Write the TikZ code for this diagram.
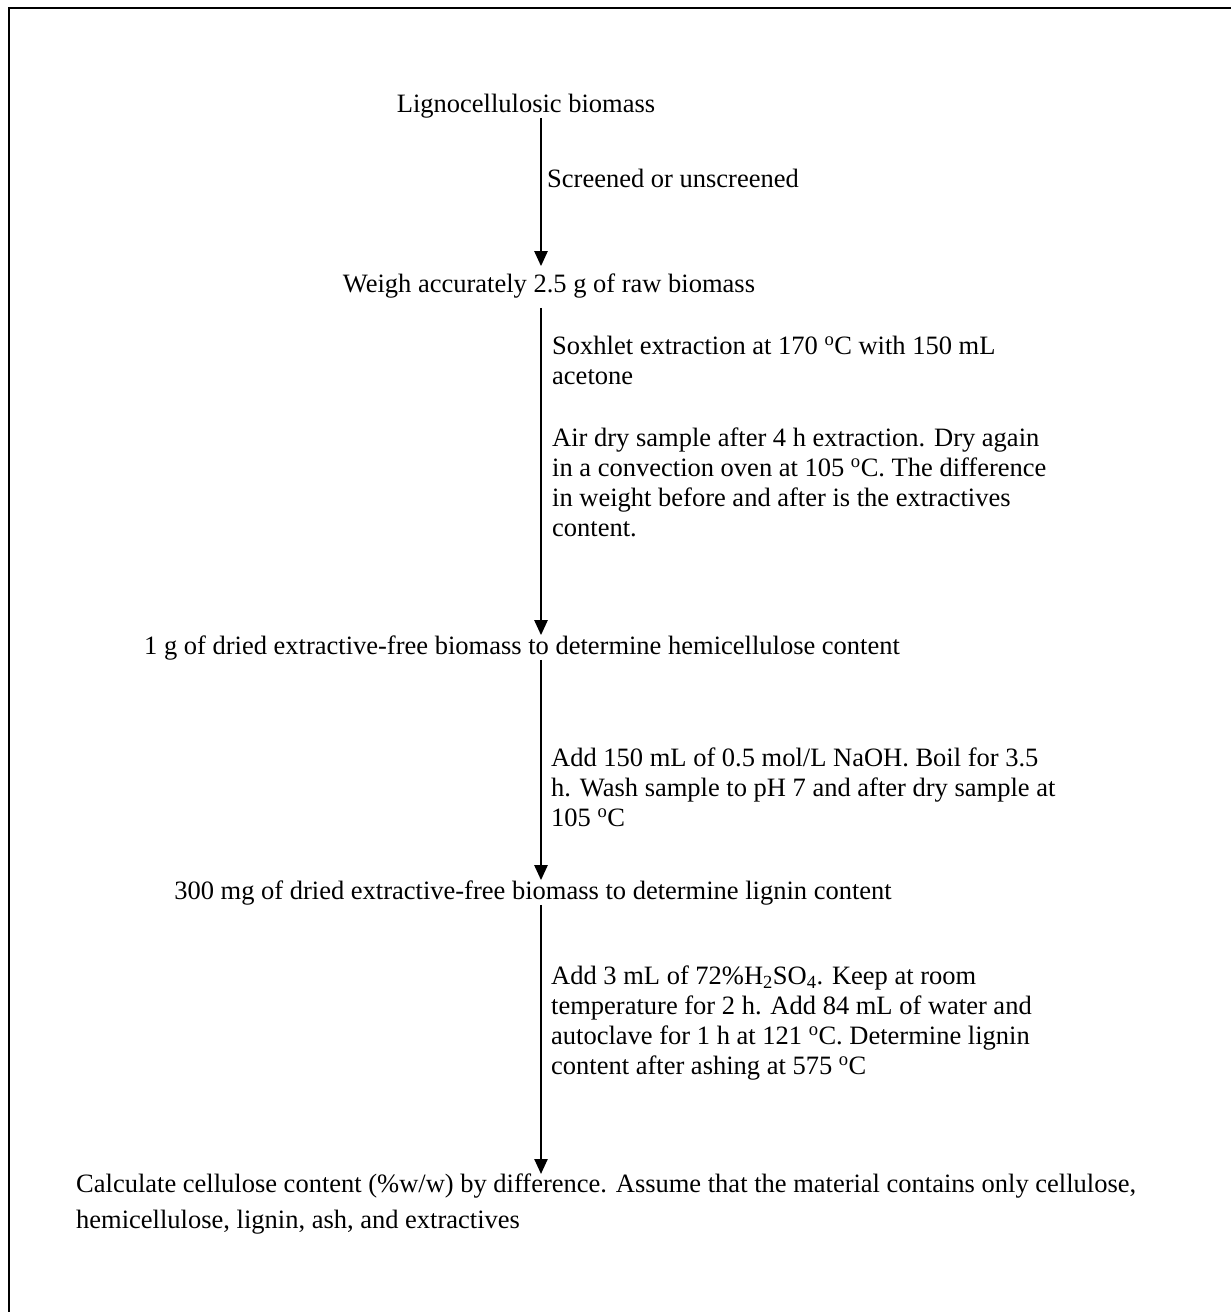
\documentclass[tikz,border=0pt]{standalone}
\usepackage{fontspec}
\setmainfont{Liberation Serif}
\usetikzlibrary{arrows.meta,calc}
\begin{document}
\begin{tikzpicture}[x=1pt,y=-1pt,
  txt/.style={inner sep=0pt, font=\fontsize{26.5}{30}\selectfont},
  para/.style={txt, align=left, anchor=north west},
  arr/.style={line width=2.4pt, -{Triangle[width=13pt,length=15pt]}},
  frameline/.style={line width=2pt}]
\useasboundingbox (0,0) rectangle (1231,1312);
\fill[white] (0,0) rectangle (1231,1312);
\draw[frameline] (1231,8) -- (9,8) -- (9,1312);
\coordinate (ax) at (541,0);
% main steps
\node[txt, anchor=base] (n1) at (526,112) {Lignocellulosic biomass};
\node[txt, anchor=base] (n2) at (549,292) {Weigh accurately 2.5 g of raw biomass};
\node[txt, anchor=base] (n3) at (522,654) {1 g of dried extractive-free biomass to determine hemicellulose content};
\node[txt, anchor=base] (n4) at (533,899) {300 mg of dried extractive-free biomass to determine lignin content};
\node[para, font=\fontsize{26.5}{36}\selectfont] (n5) at (76,1174) {Calculate cellulose content (\%w/w) by difference. Assume that the material contains only cellulose,\\hemicellulose, lignin, ash, and extractives};
% step labels
\node[txt, anchor=base west] (l1) at (547,187) {Screened or unscreened};
\node[para] (l2a) at (552,336) {Soxhlet extraction at 170 \textsuperscript{o}C with 150 mL\\acetone};
\node[para] (l2b) at (552,428) {Air dry sample after 4 h extraction. Dry again\\in a convection oven at 105 \textsuperscript{o}C. The difference\\in weight before and after is the extractives\\content.};
\node[para] (l3) at (551,748) {Add 150 mL of 0.5 mol/L NaOH. Boil for 3.5\\h. Wash sample to pH 7 and after dry sample at\\105 \textsuperscript{o}C};
\node[para] (l4) at (551,966) {Add 3 mL of 72\%H\textsubscript{2}SO\textsubscript{4}. Keep at room\\temperature for 2 h. Add 84 mL of water and\\autoclave for 1 h at 121 \textsuperscript{o}C. Determine lignin\\content after ashing at 575 \textsuperscript{o}C};
% arrows
\draw[arr] (n1.south -| ax) -- ($(n2.north -| ax)+(0,-7)$);
\draw[arr] ($(n2.south -| ax)+(0,10)$) -- (n3.north -| ax);
\draw[arr] (n3.south -| ax) -- (n4.north -| ax);
\draw[arr] (n4.south -| ax) -- (n5.north -| ax);
\end{tikzpicture}
\end{document}
